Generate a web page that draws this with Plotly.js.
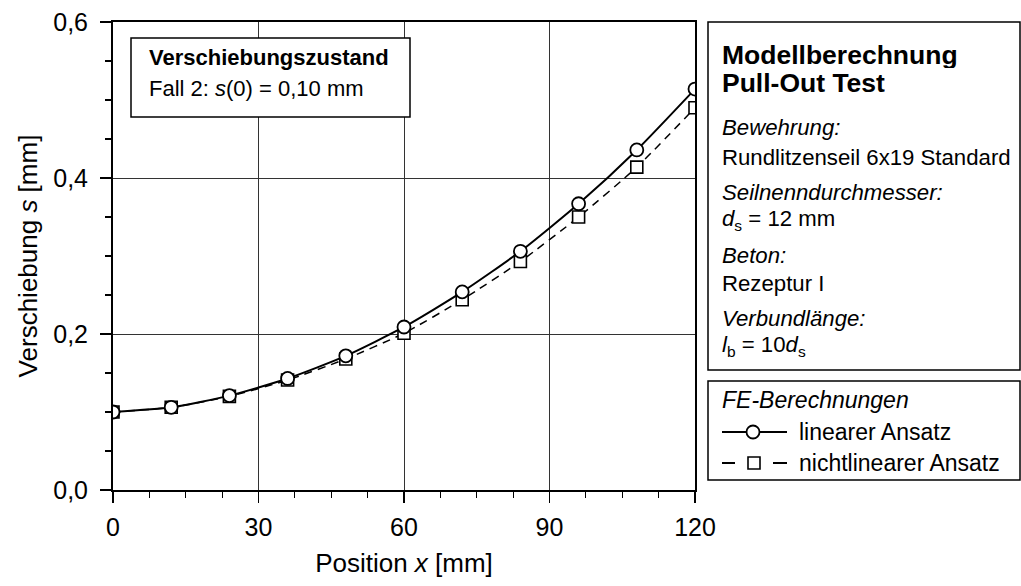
<!DOCTYPE html>
<html>
<head>
<meta charset="utf-8">
<script src="https://cdn.plot.ly/plotly-3.0.1.min.js"></script>
<style>html,body{margin:0;padding:0;background:#fff;}#chart{width:1021px;height:586px;}</style>
</head>
<body>
<div id="chart"></div>
<script>
// ---- data ----
const positions = [0, 12, 24, 36, 48, 60, 72, 84, 96, 108, 120];
const linearValues = [0.100, 0.106, 0.121, 0.143, 0.172, 0.209, 0.254, 0.306, 0.367, 0.436, 0.514];
const nonlinearValues = [0.100, 0.106, 0.120, 0.141, 0.168, 0.201, 0.244, 0.293, 0.350, 0.414, 0.490];
const seriesNames = ['linearer Ansatz', 'nichtlinearer Ansatz'];
const legendTitle = 'FE-Berechnungen';
const xTicks = [0, 30, 60, 90, 120];
const yTicks = [0, 0.2, 0.4, 0.6];

const FONT = 'Liberation Sans, Arial, sans-serif';
const PL = 113, PR = 695, PT = 22, PB = 490;
const px = v => (v - PL) / (PR - PL);
const py = v => (PB - v) / (PB - PT);

const traces = [
  {
    x: positions, y: nonlinearValues, name: seriesNames[1], type: 'scatter', mode: 'lines+markers',
    line: {color: '#000', width: 1.5, dash: '8px,6px', shape: 'spline', smoothing: 0.6},
    marker: {symbol: 'square', size: 12, color: '#fff', line: {color: '#000', width: 1.6}}
  },
  {
    x: positions, y: linearValues, name: seriesNames[0], type: 'scatter', mode: 'lines+markers',
    line: {color: '#000', width: 2, shape: 'spline', smoothing: 0.6},
    marker: {symbol: 'circle', size: 13, color: '#fff', line: {color: '#000', width: 1.8}}
  }
];

function ann(text, x, y, size, extra) {
  return Object.assign({text: text, xref: 'paper', yref: 'paper', x: px(x), y: py(y),
    xanchor: 'left', yanchor: 'middle', showarrow: false, align: 'left',
    font: {family: FONT, size: size, color: '#000'}}, extra || {});
}

const annotations = [
  ann('<b>Verschiebungszustand</b>', 147, 58, 22),
  ann('Fall 2: <i>s</i>(0) = 0,10 mm', 147, 88, 22),
  ann('<b>Modellberechnung</b>', 720, 55, 26.5, {height: 27, valign: 'middle'}),
  ann('<b>Pull-Out Test</b>', 720, 82, 26.5, {height: 27, valign: 'middle'}),
  ann('<i>Bewehrung:</i>', 720, 128, 22.2),
  ann('Rundlitzenseil 6x19 Standard', 720, 157, 22.2),
  ann('<i>Seilnenndurchmesser:</i>', 720, 192, 22.2),
  ann('<i>d</i><sub>s</sub> = 12 mm', 720, 220, 22.2),
  ann('<i>Beton:</i>', 720, 255, 22.2),
  ann('Rezeptur I', 720, 283, 22.2),
  ann('<i>Verbundlänge:</i>', 720, 318, 22.2),
  ann('<i>l</i><sub>b</sub> = 10<i>d</i><sub>s</sub>', 720, 346, 22.2),
  // legend texts
  ann('<i>' + legendTitle + '</i>', 720, 400, 23),
  ann(seriesNames[0], 797, 432, 23),
  ann(seriesNames[1], 797, 463, 23)
];

const shapes = [
  {type: 'rect', xref: 'paper', yref: 'paper', x0: px(131), x1: px(410), y0: py(117), y1: py(38),
   line: {color: '#000', width: 1.5}, fillcolor: '#fff', layer: 'above'},
  {type: 'rect', xref: 'paper', yref: 'paper', x0: px(708), x1: px(1020), y0: py(370), y1: py(22),
   line: {color: '#000', width: 1.5}, fillcolor: 'rgba(0,0,0,0)'},
  {type: 'rect', xref: 'paper', yref: 'paper', x0: px(708), x1: px(1020), y0: py(480), y1: py(381),
   line: {color: '#000', width: 1.5}, fillcolor: 'rgba(0,0,0,0)'},
  // legend sample: linear (solid line + circle)
  {type: 'line', xref: 'paper', yref: 'paper', x0: px(722), x1: px(787), y0: py(432), y1: py(432),
   line: {color: '#000', width: 2}},
  {type: 'circle', xref: 'paper', yref: 'paper', xsizemode: 'pixel', ysizemode: 'pixel',
   xanchor: px(753), yanchor: py(432), x0: -6.5, x1: 6.5, y0: -6.5, y1: 6.5,
   line: {color: '#000', width: 1.8}, fillcolor: '#fff'},
  // legend sample: nonlinear (dashes + square)
  {type: 'line', xref: 'paper', yref: 'paper', x0: px(722), x1: px(735), y0: py(463), y1: py(463),
   line: {color: '#000', width: 2}},
  {type: 'line', xref: 'paper', yref: 'paper', x0: px(773), x1: px(787), y0: py(463), y1: py(463),
   line: {color: '#000', width: 2}},
  {type: 'rect', xref: 'paper', yref: 'paper', xsizemode: 'pixel', ysizemode: 'pixel',
   xanchor: px(754), yanchor: py(463), x0: -6, x1: 6, y0: -6, y1: 6,
   line: {color: '#000', width: 1.6}, fillcolor: '#fff'}
];

const layout = {
  width: 1021, height: 586,
  margin: {l: PL, r: 1021 - PR, t: PT, b: 586 - PB, pad: 0},
  paper_bgcolor: '#fff', plot_bgcolor: '#fff',
  separators: ', ',
  showlegend: false,
  font: {family: FONT, size: 23, color: '#000'},
  xaxis: {
    range: [0, 120], tickvals: xTicks, ticks: 'outside', ticklen: 11, tickwidth: 1.5, tickcolor: '#000',
    tickfont: {family: FONT, size: 25, color: '#000'}, ticklabelstandoff: 3,
    showline: true, linecolor: '#000', linewidth: 2, mirror: true,
    showgrid: true, gridcolor: '#333', gridwidth: 1, zeroline: false,
    minor: {dtick: 7.5, tick0: 0, ticks: 'outside', ticklen: 6, tickwidth: 1.2, tickcolor: '#000', showgrid: false},
    title: {text: 'Position <i>x</i> [mm]', font: {family: FONT, size: 26, color: '#000'}, standoff: 14}
  },
  yaxis: {
    range: [0, 0.6], tickvals: yTicks, tickformat: '.1f', ticks: 'outside', ticklen: 11, tickwidth: 1.5, tickcolor: '#000',
    tickfont: {family: FONT, size: 25, color: '#000'}, ticklabelstandoff: 7,
    showline: true, linecolor: '#000', linewidth: 2, mirror: true,
    showgrid: true, gridcolor: '#333', gridwidth: 1, zeroline: false,
    minor: {dtick: 0.05, tick0: 0, ticks: 'outside', ticklen: 6, tickwidth: 1.2, tickcolor: '#000', showgrid: false},
    title: {text: 'Verschiebung <i>s</i> [mm]', font: {family: FONT, size: 26, color: '#000'}, standoff: 8}
  },
  annotations: annotations,
  shapes: shapes
};

Plotly.newPlot('chart', traces, layout, {displayModeBar: false, staticPlot: true});
</script>
</body>
</html>
